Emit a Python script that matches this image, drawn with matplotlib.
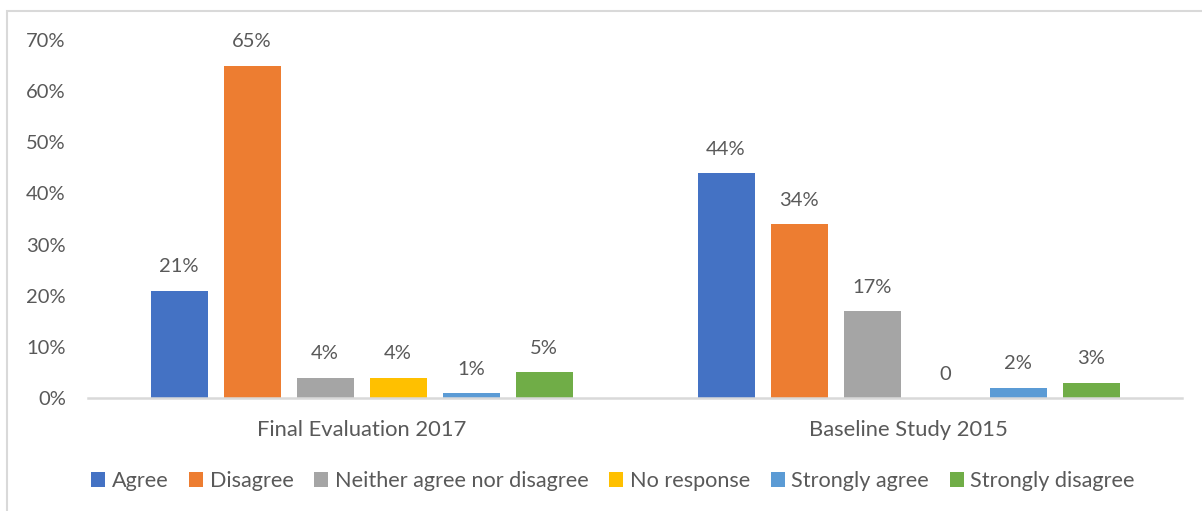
import matplotlib.pyplot as plt
import matplotlib.patches as mpatches
import numpy as np

plt.rcParams['font.family'] = ['Lato', 'DejaVu Sans']

groups = ["Final Evaluation 2017", "Baseline Study 2015"]
series = ["Agree", "Disagree", "Neither agree nor disagree", "No response",
          "Strongly agree", "Strongly disagree"]
values = [
    [21, 44],   # Agree
    [65, 34],   # Disagree
    [4, 17],    # Neither agree nor disagree
    [4, 0],     # No response
    [1, 2],     # Strongly agree
    [5, 3],     # Strongly disagree
]
colors = ["#4472C4", "#ED7D31", "#A5A5A5", "#FFC000", "#5B9BD5", "#70AD47"]
yticks = [0, 10, 20, 30, 40, 50, 60, 70]

text_color = "#595959"

fig = plt.figure(figsize=(12.02, 5.11), dpi=100)
ax = fig.add_axes([88 / 1202, 113 / 511, 1094 / 1202, 358 / 511])

x = np.arange(len(groups))
slot = 73 / 547
width = 57 / 547
for i, (name, vals, c) in enumerate(zip(series, values, colors)):
    pos = x + (i - (len(series) - 1) / 2) * slot
    bars = ax.bar(pos, vals, width, color=c, label=name)
    labels = [f"{v}%" if v else "0" for v in vals]
    ax.bar_label(bars, labels=labels, padding=11, fontsize=14.5, color=text_color)

ax.set_xlim(-0.5, 1.5)
ax.set_ylim(0, 70)
ax.set_yticks(yticks)
ax.set_yticklabels([f"{t}%" for t in yticks])
ax.set_xticks(x)
ax.set_xticklabels(groups)
ax.tick_params(axis='y', length=0, pad=16, labelsize=14.5, labelcolor=text_color)
ax.tick_params(axis='x', length=0, pad=16, labelsize=15.8, labelcolor=text_color)
for s in ["top", "right", "left"]:
    ax.spines[s].set_visible(False)
ax.spines["bottom"].set_color("#d9d9d9")
ax.spines["bottom"].set_linewidth(1.8)

leg = fig.legend(loc="center", bbox_to_anchor=(613 / 1202, 1 - 481 / 511), ncol=6,
                 frameon=False, fontsize=15.6, handlelength=0.65, handleheight=0.65,
                 handletextpad=0.3, columnspacing=0.95)
for t in leg.get_texts():
    t.set_color(text_color)

# outer chart border
fig.patches.append(mpatches.Rectangle((7 / 1202, -0.1), 1.2, 1.1 - 11 / 511,
                                      transform=fig.transFigure, fill=False,
                                      edgecolor="#d9d9d9", linewidth=1.5))

fig.savefig("out.png", dpi=100)
